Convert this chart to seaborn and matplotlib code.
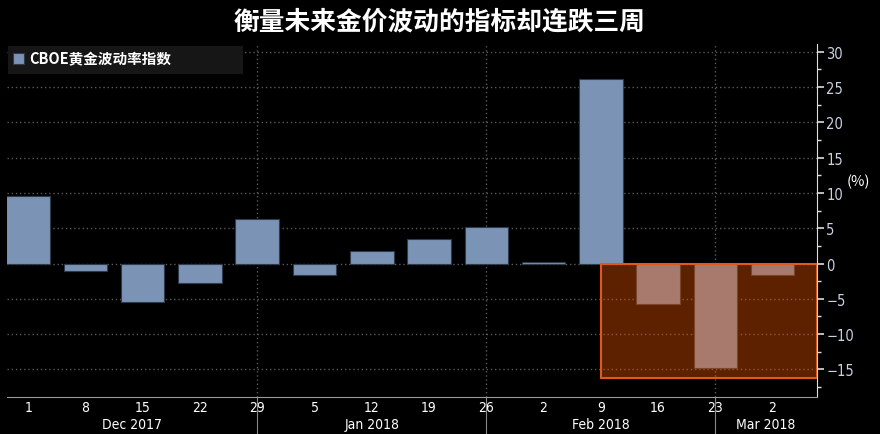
import numpy as np
import pandas as pd
import matplotlib
matplotlib.use("Agg")
import matplotlib.pyplot as plt
import matplotlib.patches as mpatches
import seaborn as sns

# weekly change of the CBOE gold volatility index (%)
week_labels = ['1', '8', '15', '22', '29', '5', '12', '19', '26', '2', '9', '16', '23', '2']
changes = [9.6, -1.1, -5.5, -2.8, 6.3, -1.6, 1.8, 3.4, 5.1, 0.2, 26.1, -5.7, -14.8, -1.6]
months = ['Dec 2017', 'Jan 2018', 'Feb 2018', 'Mar 2018']
month_breaks = [4, 8, 12]          # week index where the month separator sits
highlight_from = 10                # shaded box starts at this week
highlight_floor = -16.2

title = '衡量未来金价波动的指标却连跌三周'
series_name = 'CBOE黄金波动率指数'

sns.set_style('dark')
plt.rcParams['font.family'] = ['Noto Sans CJK SC', 'DejaVu Sans']
narrow = ['Liberation Sans Narrow', 'DejaVu Sans']

bar_blue = '#7b94b6'
grid_col = '#5a5a5a'
tick_col = '#c9d2e2'

df = pd.DataFrame({'week': np.arange(len(changes)), 'change': changes})

fig = plt.figure(figsize=(8.8, 4.35), dpi=100, facecolor='black')
ax = fig.add_axes([0.008, 0.085, 0.92, 0.812], facecolor='black')

sns.barplot(data=df, x='week', y='change', color=bar_blue, width=0.76,
            edgecolor='#2f3b4c', linewidth=0.8, saturation=1,
            label=series_name, ax=ax, zorder=3)

xmin, xmax = -0.37, len(changes) - 0.23
ax.set_xlim(xmin, xmax)
ax.set_ylim(-18.9, 31.1)

# highlighted box of the last three weeks
x0 = highlight_from
rect = mpatches.Rectangle((x0, highlight_floor), xmax - x0, -highlight_floor,
                          facecolor='#eb5500', alpha=0.4, edgecolor='none', zorder=4)
ax.add_patch(rect)
ax.add_patch(mpatches.Rectangle((x0, highlight_floor), xmax - x0, -highlight_floor,
                                fill=False, edgecolor='#e0581a', linewidth=1.5, zorder=5))

# grid
ax.set_yticks(np.arange(-15, 31, 5))
ax.set_yticks(np.arange(-17.5, 31, 2.5), minor=True)
for yv in np.arange(-15, 31, 5):
    ax.axhline(yv, color=grid_col, linestyle=(0, (1, 2)), linewidth=1, zorder=1)
for xb in month_breaks:
    ax.axvline(xb, color=grid_col, linestyle=(0, (1, 2)), linewidth=1, zorder=1)

ax.grid(False)
ax.yaxis.tick_right()
ax.tick_params(axis='y', which='major', colors='#dddddd', length=5, width=1.2,
               labelcolor=tick_col, labelsize=10.5, pad=2)
ax.tick_params(axis='y', which='minor', colors='#dddddd', length=3, width=1)
ax.set_xticks(np.arange(len(week_labels)))
ax.set_xticklabels(week_labels)
ax.tick_params(axis='x', length=0, labelcolor='white', labelsize=10, pad=2)
for lab in ax.get_yticklabels() + ax.get_xticklabels():
    lab.set_fontfamily(narrow)
    lab.set_fontstretch('condensed')

for side in ['top', 'left']:
    ax.spines[side].set_visible(False)
ax.spines['right'].set_color('#dddddd')
ax.spines['bottom'].set_color('#999999')
ax.set_xlabel('')
ax.set_ylabel('')

# month labels and separators below the axis
bounds = [xmin] + month_breaks + [xmax]
for i, m in enumerate(months):
    mid = (bounds[i] + bounds[i + 1]) / 2
    ax.text(mid, -0.077, m, transform=ax.get_xaxis_transform(), ha='center',
            va='center', color='white', fontsize=10, fontfamily=narrow,
            fontstretch='condensed')
for xb in month_breaks:
    ax.plot([xb, xb], [0, -0.11], transform=ax.get_xaxis_transform(),
            color='#888888', linewidth=0.8, clip_on=False)

ax.text(1.052, 0.613, '(%)', transform=ax.transAxes, color='white', fontsize=10.5,
        ha='center', va='center')

# legend with a wide dark panel behind it
ax.add_patch(mpatches.Rectangle((0.001, 0.915), 0.29, 0.079, transform=ax.transAxes,
                                facecolor='#161616', edgecolor='none', zorder=6))
leg = ax.legend(loc='upper left', bbox_to_anchor=(0.004, 0.99), frameon=False,
                handlelength=0.75, handleheight=0.75, handletextpad=0.35,
                borderpad=0.2, borderaxespad=0.0, fontsize=10.5)
leg.set_zorder(7)
for t in leg.get_texts():
    t.set_color('white')
    t.set_fontweight('bold')

fig.text(0.5, 0.949, title, color='white', fontsize=18.5, fontweight='bold',
         ha='center', va='center')

fig.savefig('out.png', dpi=100, facecolor='black')
